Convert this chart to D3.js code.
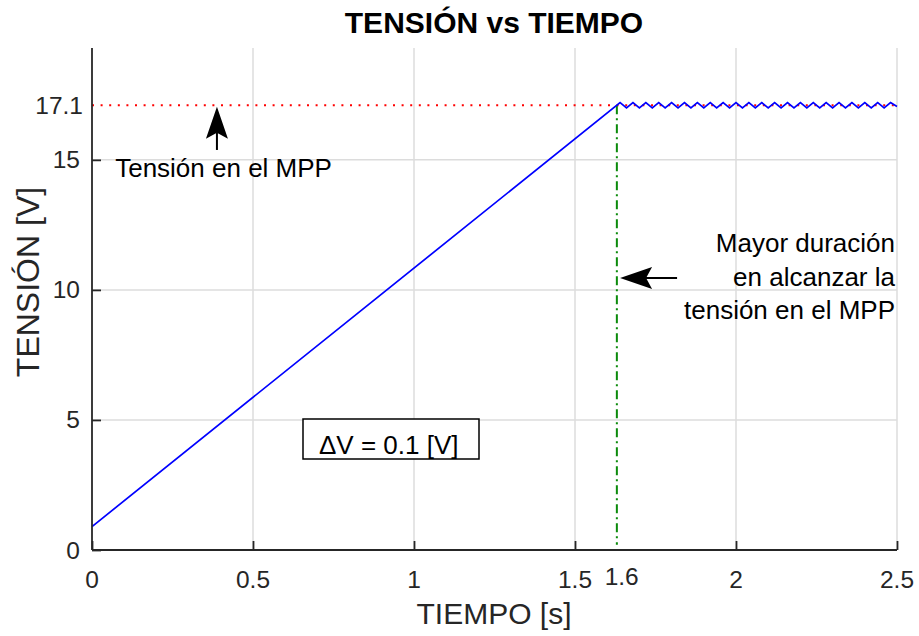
<!DOCTYPE html>
<meta http-equiv="content-type" content="text/html; charset=utf-8">
<style>
body { margin:0; background:#fff; }
text { font-family:"Liberation Sans", Arial, sans-serif; fill:#262626; }
.grid line { stroke:#dcdcdc; stroke-width:1.5; }
.axis path, .axis line { stroke:#262626; stroke-width:1.8; }
</style>
<body>
<div id="chart"></div>
<script src="https://d3js.org/d3.v7.min.js"></script>
<script>
var width = 919, height = 636;

// tick labels
var xTicks = [0, 0.5, 1, 1.5, 2, 2.5];
var yTicks = [0, 5, 10, 15];
var mppV = 17.1;      // extra y label / dotted reference
var reachT = 1.6;     // extra x label

// blue trace: ramp then oscillation around the MPP
var timeS = [0, 1.64, 1.66, 1.68, 1.70, 1.72, 1.74, 1.76, 1.78, 1.80, 1.82, 1.84,
  1.86, 1.88, 1.90, 1.92, 1.94, 1.96, 1.98, 2.00, 2.02, 2.04, 2.06, 2.08, 2.10,
  2.12, 2.14, 2.16, 2.18, 2.20, 2.22, 2.24, 2.26, 2.28, 2.30, 2.32, 2.34, 2.36,
  2.38, 2.40, 2.42, 2.44, 2.46, 2.48, 2.50];
var voltV = [0.9, 17.2, 17.0, 17.2, 17.0, 17.2, 17.0, 17.2, 17.0, 17.2, 17.0, 17.2,
  17.0, 17.2, 17.0, 17.2, 17.0, 17.2, 17.0, 17.2, 17.0, 17.2, 17.0, 17.2, 17.0,
  17.2, 17.0, 17.2, 17.0, 17.2, 17.0, 17.2, 17.0, 17.2, 17.0, 17.2, 17.0, 17.2,
  17.0, 17.2, 17.0, 17.2, 17.0, 17.2, 17.05];

var svg = d3.select("#chart").append("svg")
    .attr("width", width)
    .attr("height", height);

var x = d3.scaleLinear().domain([0, 2.5]).range([92, 897]);
var y = d3.scaleLinear().domain([0, 19.3]).range([550, 48]);

// grid
var grid = svg.append("g").attr("class", "grid");
grid.selectAll(".gx").data(xTicks.slice(1)).enter().append("line")
    .attr("x1", function(d) { return x(d); })
    .attr("x2", function(d) { return x(d); })
    .attr("y1", y.range()[0]).attr("y2", y.range()[1]);
grid.selectAll(".gy").data(yTicks.slice(1)).enter().append("line")
    .attr("x1", x.range()[0]).attr("x2", x.range()[1])
    .attr("y1", function(d) { return y(d); })
    .attr("y2", function(d) { return y(d); });

// reference line at MPP voltage
svg.append("line")
    .attr("x1", x(0)).attr("x2", x(2.5))
    .attr("y1", y(mppV)).attr("y2", y(mppV))
    .style("stroke", "#ff0000").style("stroke-width", 2)
    .style("stroke-dasharray", "2,6.6");

// time to reach MPP
svg.append("line")
    .attr("x1", x(1.63)).attr("x2", x(1.63))
    .attr("y1", y(mppV)).attr("y2", y(0.2))
    .style("stroke", "#0b8a0b").style("stroke-width", 2)
    .style("stroke-dasharray", "9,4,2,4");

// trace
var line = d3.line()
    .x(function(d, i) { return x(timeS[i]); })
    .y(function(d) { return y(d); });
svg.append("path")
    .datum(voltV)
    .attr("d", line)
    .style("fill", "none")
    .style("stroke", "#0000ff")
    .style("stroke-width", 1.7);

// axes (inside ticks, no box)
var gx = svg.append("g").attr("class", "axis")
    .attr("transform", "translate(0," + y(0) + ")")
    .call(d3.axisTop(x).tickValues(xTicks).tickSize(9).tickSizeOuter(0).tickFormat(""));
var gy = svg.append("g").attr("class", "axis")
    .attr("transform", "translate(" + x(0) + ",0)")
    .call(d3.axisRight(y).tickValues(yTicks).tickSize(9).tickSizeOuter(0).tickFormat(""));
gx.select(".domain").attr("d", "M" + x.range()[0] + ",0H" + x.range()[1]);
gy.select(".domain").attr("d", "M0," + y.range()[0] + "V" + y.range()[1]);

svg.selectAll(".xl").data(xTicks).enter().append("text")
    .attr("x", function(d) { return x(d); })
    .attr("y", 588)
    .attr("text-anchor", "middle")
    .style("font-size", "24.5px")
    .text(function(d) { return d; });
svg.append("text")
    .attr("x", x(1.645)).attr("y", 585)
    .attr("text-anchor", "middle")
    .style("font-size", "24.5px")
    .text(reachT);

svg.selectAll(".yl").data(yTicks).enter().append("text")
    .attr("x", 80)
    .attr("y", function(d) { return y(d) + 8.5; })
    .attr("text-anchor", "end")
    .style("font-size", "24.5px")
    .text(function(d) { return d; });
svg.append("text")
    .attr("x", 83).attr("y", y(mppV) + 8.5)
    .attr("text-anchor", "end")
    .style("font-size", "24.5px")
    .text(mppV);

// titles
svg.append("text")
    .attr("x", 494).attr("y", 33)
    .attr("text-anchor", "middle")
    .style("font-size", "30px").style("font-weight", "bold").style("fill", "#000")
    .text("TENSIÓN vs TIEMPO");
svg.append("text")
    .attr("x", 494).attr("y", 624)
    .attr("text-anchor", "middle")
    .style("font-size", "30px")
    .text("TIEMPO [s]");
svg.append("text")
    .attr("transform", "translate(39,282) rotate(-90)")
    .attr("text-anchor", "middle")
    .style("font-size", "32px")
    .text("TENSIÓN [V]");

// arrows
function arrow(x1, y1, x2, y2) {
  var a = Math.atan2(y2 - y1, x2 - x1), L = 32, W = 11, n = 6;
  var c = Math.cos(a), s = Math.sin(a);
  svg.append("line")
    .attr("x1", x1).attr("y1", y1)
    .attr("x2", x2 - c * L * 0.8).attr("y2", y2 - s * L * 0.8)
    .style("stroke", "#000").style("stroke-width", 2);
  var pts = [
    [x2, y2],
    [x2 - c * L - s * W, y2 - s * L + c * W],
    [x2 - c * (L - n), y2 - s * (L - n)],
    [x2 - c * L + s * W, y2 - s * L - c * W]
  ];
  svg.append("polygon")
    .attr("points", pts.map(function(p) { return p.join(","); }).join(" "))
    .style("fill", "#000");
}
arrow(x(0.388), y(15.38), x(0.388), y(17.04));
arrow(x(1.817), y(10.46), x(1.64), y(10.46));

// annotations
svg.append("text")
    .attr("x", x(0.072)).attr("y", 177)
    .style("font-size", "26px").style("fill", "#000")
    .text("Tensión en el MPP");

var note = ["Mayor duración", "en alcanzar la", "tensión en el MPP"];
svg.selectAll(".note").data(note).enter().append("text")
    .attr("x", 895)
    .attr("y", function(d, i) { return 252 + i * 33.5; })
    .attr("text-anchor", "end")
    .style("font-size", "26px").style("fill", "#000")
    .text(function(d) { return d; });

svg.append("rect")
    .attr("x", 303).attr("y", 419).attr("width", 176).attr("height", 40)
    .style("fill", "#fff").style("stroke", "#000").style("stroke-width", 1.5);
svg.append("text")
    .attr("x", 319).attr("y", 454)
    .style("font-size", "26px").style("fill", "#000")
    .text("ΔV = 0.1 [V]");
</script>
</body>
</html>
